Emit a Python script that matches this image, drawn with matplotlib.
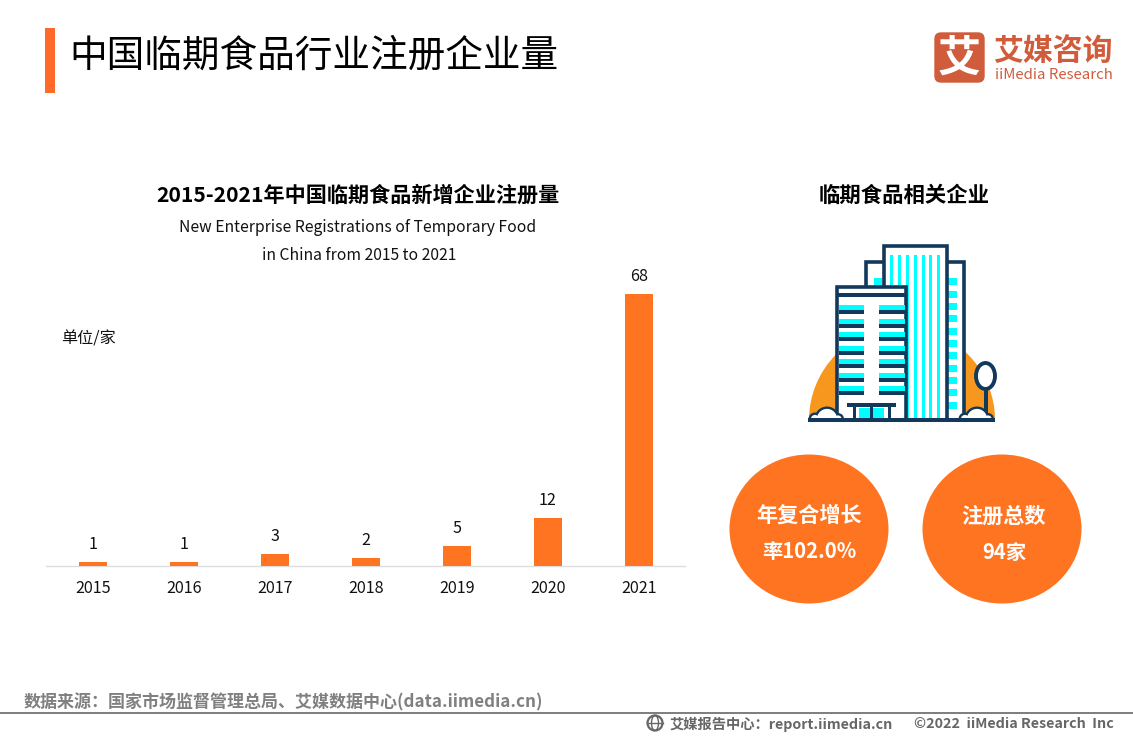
import matplotlib
matplotlib.use('Agg')
import matplotlib.pyplot as plt
from matplotlib.patches import Rectangle, Wedge, Ellipse, FancyBboxPatch, Circle

plt.rcParams['font.family'] = ['Noto Sans CJK SC', 'DejaVu Sans']

years = ['2015', '2016', '2017', '2018', '2019', '2020', '2021']
counts = [1, 1, 3, 2, 5, 12, 68]

ORANGE = '#FF7420'
NAVY = '#12395B'
CYAN = '#00FFFF'

W, H = 1133, 737
fig = plt.figure(figsize=(W / 100, H / 100), dpi=100, facecolor='white')

# overlay in pixel coords for everything that isn't the bars
bg = fig.add_axes([0, 0, 1, 1])
bg.set_xlim(0, W)
bg.set_ylim(H, 0)
bg.axis('off')


def rect(x0, y0, x1, y1, color, z=2):
    bg.add_patch(Rectangle((x0, y0), x1 - x0, y1 - y0, fc=color, ec='none', zorder=z))


def box(x0, y0, x1, y1, z=2, lw=2.6):
    bg.add_patch(Rectangle((x0, y0), x1 - x0, y1 - y0, fc='white', ec=NAVY, lw=lw, zorder=z))


# header
rect(45, 28, 55, 93, '#FF6A2B')
bg.text(69, 56, '中国临期食品行业注册企业量', fontsize=27.1, va='center', ha='left', color='black')

# logo
bg.add_patch(FancyBboxPatch((935, 33), 49, 49, boxstyle='round,pad=0,rounding_size=6',
                            fc='#D05C3C', ec='#D05C3C', lw=1))
bg.text(959.5, 59, '艾', fontsize=31, color='white', weight='bold', ha='center', va='center')
bg.text(1053, 51, '艾媒咨询', fontsize=21.5, color='#D05C3C', weight='bold', ha='center', va='center')
bg.text(1053.5, 75, 'iiMedia Research', fontsize=10.8, color='#D05C3C', ha='center', va='center', weight='medium')

# chart titles
bg.text(357.5, 195, '2015-2021年中国临期食品新增企业注册量', fontsize=15.2, weight='bold', ha='center', va='center')
bg.text(357.5, 227, 'New Enterprise Registrations of Temporary Food', fontsize=11.3, ha='center', va='center', color='#111111')
bg.text(359.5, 255, 'in China from 2015 to 2021', fontsize=11.3, ha='center', va='center', color='#111111')
bg.text(88, 339, '单位/家', fontsize=11.6, ha='center', va='center', color='#111111')
bg.text(904, 195, '临期食品相关企业', fontsize=15.4, weight='bold', ha='center', va='center')

# bars
left, right, base, top = 46, 685, 566, 250
ax = fig.add_axes([left / W, 1 - base / H, (right - left) / W, (base - top) / H])
ax.patch.set_alpha(0)
ax.bar(range(len(years)), counts, width=28 / 91, color=ORANGE, zorder=3)
ax.set_xlim(-47 / 91, 6 + 46 / 91)
ax.set_ylim(0, (base - top) / 4)
ax.set_xticks(range(len(years)))
ax.set_xticklabels(years, fontsize=11.6, color='#111111')
ax.tick_params(axis='x', length=0, pad=10)
ax.set_yticks([])
for s in ['top', 'left', 'right']:
    ax.spines[s].set_visible(False)
ax.spines['bottom'].set_color('#DDDDDD')
ax.spines['bottom'].set_linewidth(1)
for i, v in enumerate(counts):
    ax.annotate(str(v), (i, v), xytext=(0, 6.3), textcoords='offset points',
                ha='center', va='bottom', fontsize=11.6, color='#111111')

# building illustration
bg.add_patch(Wedge((902, 420), 93, 180, 360, fc='#F8971D', ec='none', zorder=1))

box(866, 262, 964, 420, z=2)
for y in [278, 291, 303, 315, 328, 340, 352, 365, 377, 389, 402]:
    rect(948, y, 957, y + 6.5, CYAN, z=3)
rect(874, 278, 882, 286, CYAN, z=3)

box(884, 246, 947, 420, z=4)
for x in [890, 898, 906, 914, 922, 929, 937]:
    rect(x, 255, x + 3.3, 418, CYAN, z=5)

box(837, 287, 906, 420, z=6)
rect(838, 293, 905, 297, NAVY, z=7)
for y in [305, 319, 332, 346, 359, 373, 386]:
    rect(839, y, 864, y + 5, CYAN, z=7)
    rect(879, y, 904.5, y + 5, CYAN, z=7)
    rect(839, y + 5, 864, y + 9, NAVY, z=7)
    rect(879, y + 5, 904.5, y + 9, NAVY, z=7)

rect(847, 403, 896, 407, NAVY, z=8)
rect(859, 408, 870, 420, CYAN, z=8)
rect(873, 408, 884, 420, CYAN, z=8)
for x in [854, 871.5, 889.5]:
    rect(x - 1.5, 407, x + 1.5, 420, NAVY, z=9)

# tree
rect(984, 389, 987.5, 420, NAVY, z=3)
bg.add_patch(Ellipse((985.5, 376), 19, 26, fc='white', ec=NAVY, lw=2.8, zorder=4))

# bushes, outlined first then filled so the humps merge into one shape
for cx in [827, 977]:
    humps = [(cx, 12.5), (cx - 12, 6.5), (cx + 11, 6)]
    for hx, r in humps:
        bg.add_patch(Wedge((hx, 419), r, 180, 360, fc=NAVY, ec='none', zorder=10))
    for hx, r in humps:
        bg.add_patch(Wedge((hx, 419), r - 2.4, 180, 360, fc='white', ec='none', zorder=11))
rect(808, 418, 995, 421.5, NAVY, z=12)

# stat circles
bg.add_patch(Ellipse((809, 529), 159, 149, fc=ORANGE, ec='none'))
bg.add_patch(Ellipse((1002, 529), 159, 149, fc=ORANGE, ec='none'))
bg.text(809, 515, '年复合增长', fontsize=15.2, weight='bold', color='white', ha='center', va='center')
bg.text(809, 552, '率102.0%', fontsize=14.6, weight='bold', color='white', ha='center', va='center')
bg.text(1004, 516, '注册总数', fontsize=15.2, weight='bold', color='white', ha='center', va='center')
bg.text(1004, 553, '94家', fontsize=14.6, weight='bold', color='white', ha='center', va='center')

# footer
bg.text(24, 702, '数据来源：国家市场监督管理总局、艾媒数据中心(data.iimedia.cn)', fontsize=12.25, weight='bold',
        color='#808080', ha='left', va='center')
rect(0, 712, W, 714, '#808080')
bg.add_patch(Circle((655, 723), 7.5, fc='white', ec='#666666', lw=1.6))
bg.plot([647.5, 662.5], [723, 723], color='#666666', lw=1)
bg.add_patch(Ellipse((655, 723), 7, 15, fc='none', ec='#666666', lw=1))
bg.text(670, 724, '艾媒报告中心：report.iimedia.cn', fontsize=10.3, weight='bold', color='#666666',
        ha='left', va='center')
bg.text(914, 724, '©2022  iiMedia Research  Inc', fontsize=10.3, weight='bold', color='#666666',
        ha='left', va='center')

fig.savefig('out.png', dpi=100)
